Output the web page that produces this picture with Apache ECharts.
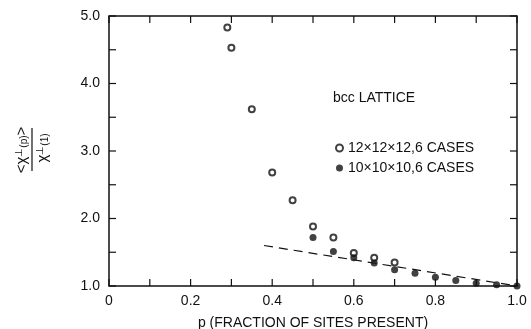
<!DOCTYPE html>
<html>
<head>
<meta charset="utf-8">
<script src="https://cdn.jsdelivr.net/npm/echarts@6/dist/echarts.min.js"></script>
<style>
  html, body { margin: 0; padding: 0; background: #fff; }
  #chart { width: 531px; height: 329px; }
</style>
</head>
<body>
<div id="chart"></div>
<script>
// 12x12x12 lattice, open circles
const p12 = [0.29, 0.30, 0.35, 0.40, 0.45, 0.50, 0.55, 0.60, 0.65, 0.70];
const chi12 = [4.83, 4.53, 3.62, 2.68, 2.27, 1.88, 1.72, 1.49, 1.42, 1.35];

// 10x10x10 lattice, filled circles
const p10 = [0.50, 0.55, 0.60, 0.65, 0.70, 0.75, 0.80, 0.85, 0.90, 0.95, 1.00];
const chi10 = [1.72, 1.51, 1.42, 1.34, 1.24, 1.19, 1.13, 1.08, 1.04, 1.02, 1.00];

// dashed reference line
const lineP = [0.38, 1.00];
const lineChi = [1.60, 1.00];

// tick positions and labels
const xTicks = [0, 0.1, 0.2, 0.3, 0.4, 0.5, 0.6, 0.7, 0.8, 0.9, 1.0];
const yTicks = [1, 1.5, 2, 2.5, 3, 3.5, 4, 4.5, 5];
const xLabels = ['0', '0.2', '0.4', '0.6', '0.8', '1.0'];
const yLabels = ['1.0', '2.0', '3.0', '4.0', '5.0'];

const font = 'Liberation Sans, Arial, sans-serif';
const ink = '#111';

const chart = echarts.init(document.getElementById('chart'));

const zip = (a, b) => a.map((v, i) => [v, b[i]]);

// box round the plot with inward ticks on all four sides, placed through the axes
function drawFrame(params, api) {
  const cs = params.coordSys;
  const top = cs.y, bottom = cs.y + cs.height;
  const left = cs.x, right = cs.x + cs.width;
  const tick = 7;
  const lineStyle = { stroke: ink, lineWidth: 1.2 };
  const kids = [{
    type: 'rect',
    shape: { x: left, y: top, width: cs.width, height: cs.height },
    style: { fill: 'none', stroke: ink, lineWidth: 1.5 }
  }];
  xTicks.forEach(v => {
    const x = api.coord([v, yTicks[0]])[0];
    kids.push({ type: 'line', shape: { x1: x, y1: bottom, x2: x, y2: bottom - tick }, style: lineStyle });
    kids.push({ type: 'line', shape: { x1: x, y1: top, x2: x, y2: top + tick }, style: lineStyle });
  });
  yTicks.forEach(v => {
    const y = api.coord([xTicks[0], v])[1];
    kids.push({ type: 'line', shape: { x1: left, y1: y, x2: left + tick, y2: y }, style: lineStyle });
    kids.push({ type: 'line', shape: { x1: right, y1: y, x2: right - tick, y2: y }, style: lineStyle });
  });
  return { type: 'group', children: kids };
}

const option = {
  animation: false,
  grid: { left: 109, right: 14, top: 16, bottom: 43, outerBoundsMode: 'none', containLabel: false },
  xAxis: {
    type: 'value', min: 0, max: 1, interval: 0.1,
    axisLine: { show: false }, axisTick: { show: false }, splitLine: { show: false },
    axisLabel: {
      color: ink, fontFamily: font, fontSize: 14, margin: 8,
      formatter: v => {
        const i = Math.round(v * 10);
        return i % 2 === 0 ? xLabels[i / 2] : '';
      }
    },
    name: 'p (FRACTION OF SITES PRESENT)',
    nameLocation: 'middle',
    nameGap: 30,
    nameTextStyle: { color: ink, fontFamily: font, fontSize: 14 }
  },
  yAxis: {
    type: 'value', min: 1, max: 5, interval: 0.5,
    axisLine: { show: false }, axisTick: { show: false }, splitLine: { show: false },
    axisLabel: {
      color: ink, fontFamily: font, fontSize: 14, margin: 9,
      formatter: v => (Math.abs(v - Math.round(v)) < 1e-6 ? yLabels[Math.round(v) - 1] : '')
    }
  },
  legend: {
    orient: 'vertical',
    left: 330,
    top: 136,
    itemWidth: 7,
    itemHeight: 7,
    itemGap: 6,
    textStyle: { color: ink, fontFamily: font, fontSize: 14 },
    data: ['12\u00d712\u00d712,6 CASES', '10\u00d710\u00d710,6 CASES']
  },
  graphic: [
    {
      type: 'text',
      left: 333, top: 91,
      style: { text: 'bcc LATTICE', fill: ink, font: '14px ' + font }
    },
    {
      type: 'text',
      x: 14, y: 150, rotation: Math.PI / 2,
      style: {
        text: '<χ{s|⊥}{b|(p)}>',
        rich: {
          s: { fontSize: 10, verticalAlign: 'top', fill: ink, fontFamily: font },
          b: { fontSize: 10, verticalAlign: 'bottom', fill: ink, fontFamily: font }
        },
        fill: ink, font: '15px ' + font, align: 'center', verticalAlign: 'top'
      }
    },
    {
      type: 'line',
      shape: { x1: 32, y1: 128, x2: 32, y2: 171 },
      style: { stroke: ink, lineWidth: 1.2 }
    },
    {
      type: 'text',
      x: 35, y: 148, rotation: Math.PI / 2,
      style: {
        text: 'χ{s|⊥}{b|(1)}',
        rich: {
          s: { fontSize: 10, verticalAlign: 'top', fill: ink, fontFamily: font },
          b: { fontSize: 10, verticalAlign: 'bottom', fill: ink, fontFamily: font }
        },
        fill: ink, font: '15px ' + font, align: 'center', verticalAlign: 'top'
      }
    }
  ],
  series: [{
    name: 'frame',
    type: 'custom',
    silent: true,
    clip: false,
    renderItem: drawFrame,
    data: [[xTicks[0], yTicks[0]]]
  }, {
    name: 'fit',
    type: 'line',
    symbol: 'none',
    lineStyle: { color: ink, width: 1.2, type: [9, 6] },
    data: zip(lineP, lineChi)
  }, {
    name: '12\u00d712\u00d712,6 CASES',
    type: 'scatter',
    symbol: 'emptyCircle',
    symbolSize: 6,
    itemStyle: { color: ink },
    data: zip(p12, chi12)
  }, {
    name: '10\u00d710\u00d710,6 CASES',
    type: 'scatter',
    symbol: 'circle',
    symbolSize: 7,
    itemStyle: { color: ink },
    data: zip(p10, chi10)
  }]
};

chart.setOption(option);
</script>
</body>
</html>
